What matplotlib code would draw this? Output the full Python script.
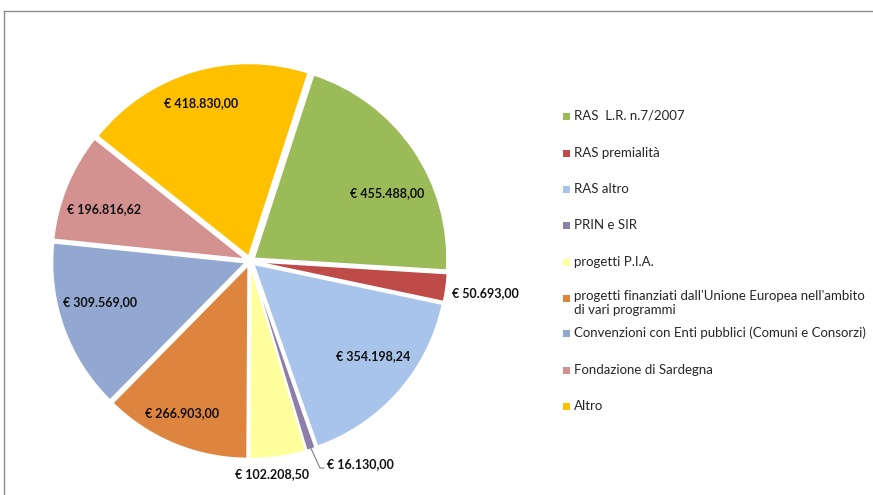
import numpy as np
import matplotlib
matplotlib.use("Agg")
import matplotlib.pyplot as plt
from matplotlib.patches import Rectangle
from matplotlib.lines import Line2D

categories = [
    "RAS  L.R. n.7/2007",
    "RAS premialità",
    "RAS altro",
    "PRIN e SIR",
    "progetti P.I.A.",
    "progetti finanziati dall'Unione Europea nell'ambito\ndi vari programmi",
    "Convenzioni con Enti pubblici (Comuni e Consorzi)",
    "Fondazione di Sardegna",
    "Altro",
]
values = [455488.00, 50693.00, 354198.24, 16130.00, 102208.50,
          266903.00, 309569.00, 196816.62, 418830.00]
value_labels = ["€ 455.488,00", "€ 50.693,00", "€ 354.198,24", "€ 16.130,00",
                "€ 102.208,50", "€ 266.903,00", "€ 309.569,00", "€ 196.816,62",
                "€ 418.830,00"]
colors = ["#9BBB59", "#BE4B48", "#A9C4EA", "#8E7FA8", "#FFFF9E",
          "#DD843E", "#93A8D1", "#D39290", "#FFC000"]

W, H = 873, 495
R = 193.0
cx, cy = 250.0, 261.0

# label centres in figure pixels (layout only)
label_px = [(387, 193), (485, 293), (373, 356), (360, 464), (272, 474),
            (182, 413), (100, 302), (104, 209), (201, 103)]
label_pos = [((px - cx) / R, (cy - py) / R) for px, py in label_px]

fig = plt.figure(figsize=(W / 100, H / 100), dpi=100)
L = 1.2
ax = fig.add_axes([(cx - L * R) / W, (H - cy - L * R) / H, 2 * L * R / W, 2 * L * R / H])

wedges, _ = ax.pie(values, colors=colors, startangle=72, counterclock=False,
                   explode=[0.025] * len(values), radius=1.0,
                   wedgeprops=dict(edgecolor="white", linewidth=1.2))
ax.set_aspect("auto")
ax.set_xlim(-L, L)
ax.set_ylim(-L, L)
ax.axis("off")

font = "Lato"
for txt, (x, y) in zip(value_labels, label_pos):
    ax.text(x, y, txt, ha="center", va="center", fontsize=9,
            fontweight="bold", family=font, color="#111111")

# leader line for the small slice
w = wedges[3]
mid = np.deg2rad((w.theta1 + w.theta2) / 2)
rr = 1.0 + 0.025 - 0.01
sx, sy = rr * np.cos(mid), rr * np.sin(mid)
ex, ey = (324 - cx) / R, (cy - 468) / R
ax.plot([sx, ex - 4 / R, ex], [sy, ey, ey], color="#7f7f7f", lw=0.8, clip_on=False)

# legend drawn manually
leg_y = [116, 153, 189, 225, 262, 298, 333, 370, 406]
for c, lab, py in zip(colors, categories, leg_y):
    fig.patches.append(Rectangle((563 / W, (H - py - 3.5) / H), 7 / W, 7 / H,
                                 transform=fig.transFigure, facecolor=c,
                                 edgecolor="none"))
    if "\n" in lab:
        fig.text(574 / W, (H - py + 7.5) / H, lab, ha="left", va="top",
                 fontsize=9.5, family=font, color="#262626", linespacing=1.2)
    else:
        fig.text(574 / W, (H - py) / H, lab, ha="left", va="center",
                 fontsize=9.5, family=font, color="#262626")

# outer frame
fig.add_artist(Line2D([4 / W, 4 / W], [0, (H - 11) / H], transform=fig.transFigure,
                      color="#8c8c8c", lw=1))
fig.add_artist(Line2D([4 / W, 1], [(H - 11) / H, (H - 11) / H], transform=fig.transFigure,
                      color="#8c8c8c", lw=1))

fig.savefig("out.png", dpi=100)
